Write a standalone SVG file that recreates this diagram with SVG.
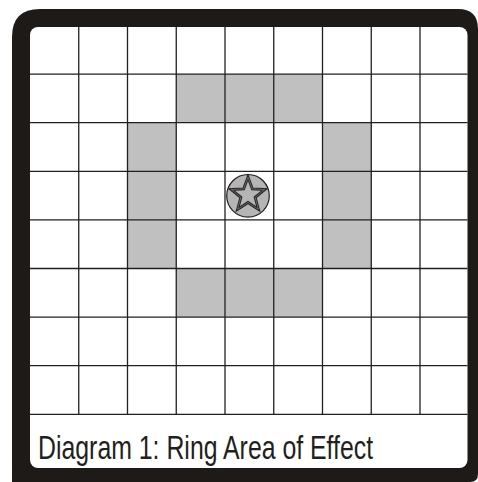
<svg xmlns="http://www.w3.org/2000/svg" width="478" height="482" viewBox="0 0 478 482">
<style>
.cell{fill:#c0c0c0}
.grid line{stroke:#231f20;stroke-width:1.3}
.caption{font-family:"Liberation Sans",Arial,sans-serif;font-size:33px;fill:#231f20}
</style>
<rect width="478" height="482" fill="#ffffff"/>
<g id="frame">
<path d="M40 9 H458 Q478 9 478 29 V474 Q478 482 470 482 H12 V37 Q12 9 40 9 Z" fill="#1e1a17"/>
<path d="M12 450 Q12 482 40 482 H12 Z" fill="#1e1a17"/>
<rect x="30" y="27" width="437.5" height="441" rx="8" fill="#ffffff"/>
</g>
<g id="ring">
<rect class="cell" x="176.2" y="74.1" width="146.3" height="48.6"/>
<rect class="cell" x="127.5" y="122.7" width="48.7" height="145.8"/>
<rect class="cell" x="322.5" y="122.7" width="48.7" height="145.8"/>
<rect class="cell" x="176.2" y="268.5" width="146.3" height="48.6"/>
</g>
<g id="grid" class="grid">
<line x1="78.75" y1="27" x2="78.75" y2="414.3"/>
<line x1="127.5" y1="27" x2="127.5" y2="414.3"/>
<line x1="176.25" y1="27" x2="176.25" y2="414.3"/>
<line x1="225" y1="27" x2="225" y2="414.3"/>
<line x1="273.75" y1="27" x2="273.75" y2="414.3"/>
<line x1="322.5" y1="27" x2="322.5" y2="414.3"/>
<line x1="371.25" y1="27" x2="371.25" y2="414.3"/>
<line x1="420" y1="27" x2="420" y2="414.3"/>
<line x1="30" y1="74.1" x2="467.5" y2="74.1"/>
<line x1="30" y1="122.7" x2="467.5" y2="122.7"/>
<line x1="30" y1="171.3" x2="467.5" y2="171.3"/>
<line x1="30" y1="219.9" x2="467.5" y2="219.9"/>
<line x1="30" y1="268.5" x2="467.5" y2="268.5"/>
<line x1="30" y1="317.1" x2="467.5" y2="317.1"/>
<line x1="30" y1="365.7" x2="467.5" y2="365.7"/>
<line x1="30" y1="414.3" x2="467.5" y2="414.3"/>
</g>
<g id="center-star">
<circle cx="248" cy="195.8" r="21.3" fill="#b5b5b5" stroke="#231f20" stroke-width="1.2"/>
<polygon points="248,177.3 252.41,188.93 264.83,189.53 255.13,197.32 258.4,209.32 248,202.5 237.6,209.32 240.87,197.32 231.17,189.53 243.59,188.93" fill="#b5b5b5" stroke="#231f20" stroke-width="2.8" stroke-linejoin="miter"/>
<polygon points="248,177.3 252.41,188.93 264.83,189.53 255.13,197.32 258.4,209.32 248,202.5 237.6,209.32 240.87,197.32 231.17,189.53 243.59,188.93" fill="none" stroke="#8a8a8a" stroke-width="0.7"/>
</g>
<g id="caption" transform="scale(0.753 1)">
<text class="caption" x="50.5" y="459">Diagram 1: Ring Area of Effect</text>
</g>
</svg>
